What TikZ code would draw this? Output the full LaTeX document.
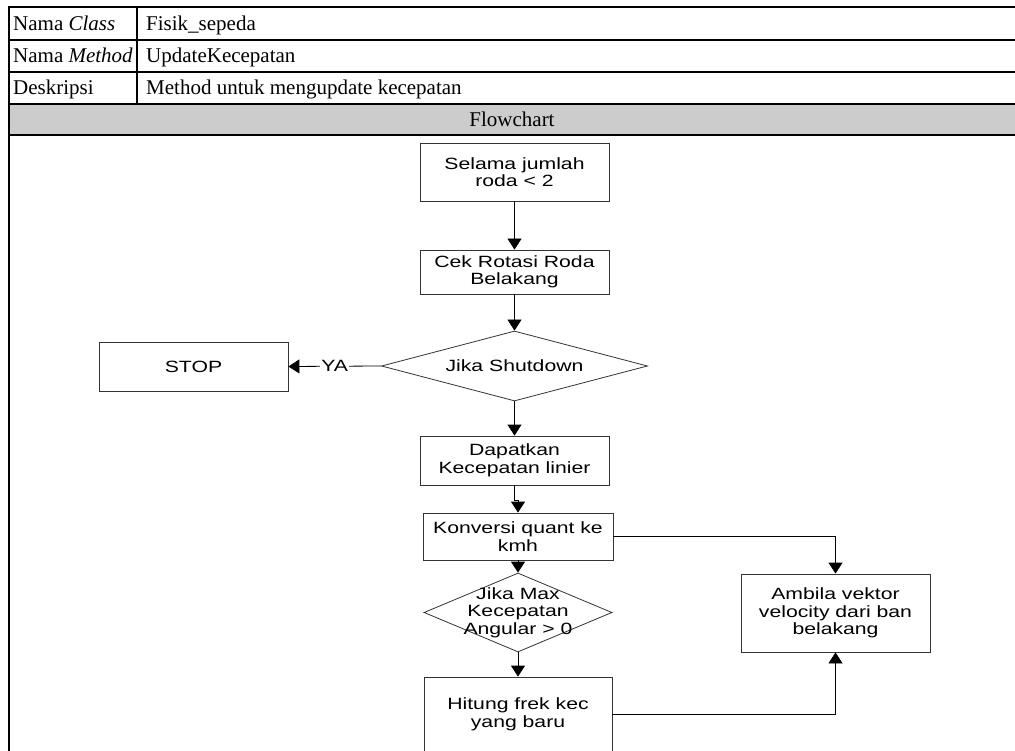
\documentclass[tikz,border=0pt]{standalone}
\usepackage{fontspec}
\setmainfont{Liberation Serif}
\newfontfamily\flowfont[FakeStretch=1.3]{Liberation Sans}
\usetikzlibrary{arrows.meta,shapes.geometric}
\begin{document}
\begin{tikzpicture}[x=1pt,y=-1pt,
  rule/.style={line width=1.7pt, black},
  cell/.style={font=\fontsize{21}{25}\selectfont, anchor=base west, inner sep=0pt},
  proc/.style={draw=black!80, line width=0.8pt, inner sep=0pt, align=center,
    font=\flowfont\fontsize{16.3}{17.5}\selectfont},
  dec/.style={diamond, draw=black!80, line width=0.8pt, inner sep=0pt},
  flowtext/.style={inner sep=0pt, align=center, font=\flowfont\fontsize{16.3}{17.5}\selectfont},
  flow/.style={draw=black, line width=0.8pt, -{Triangle[length=11pt,width=14pt]}},
]
\useasboundingbox (0,0) rectangle (1015,751);
\clip (0,0) rectangle (1015,751);

% header table
\fill[black!20] (9,104) rectangle (1030,135);
\draw[rule] (9,7) -- (1030,7);
\draw[rule] (9,40) -- (1030,40);
\draw[rule] (9,72) -- (1030,72);
\draw[rule] (9,104) -- (1030,104);
\draw[rule] (9,135) -- (1030,135);
\draw[rule] (9,6.2) -- (9,760);
\draw[rule] (137,7) -- (137,104);

\node[cell] (k1) at (13,31) {Nama \textit{Class}};
\node[cell] (v1) at (146,31) {Fisik\_sepeda};
\node[cell] (k2) at (13,63) {Nama \textit{Method}};
\node[cell] (v2) at (146,63) {UpdateKecepatan};
\node[cell] (k3) at (13,95) {Deskripsi};
\node[cell] (v3) at (146,95) {Method untuk mengupdate kecepatan};
\node[cell, anchor=base] (fc) at (512,127) {Flowchart};

% flowchart
\node[proc, minimum width=189pt, minimum height=58pt] (b1) at (514.5,172) {Selama jumlah\\roda < 2};
\node[proc, minimum width=189pt, minimum height=44pt] (b2) at (514.5,272) {Cek Rotasi Roda\\Belakang};
\node[dec, minimum width=266pt, minimum height=70pt] (d1) at (514.5,366) {};
\node[flowtext] (t1) at (d1) {Jika Shutdown};
\node[proc, minimum width=189pt, minimum height=49pt] (stop) at (193.5,366.5) {STOP};
\node[proc, minimum width=189pt, minimum height=49pt] (b3) at (514.5,460.5) {Dapatkan\\Kecepatan linier};
\node[proc, minimum width=190pt, minimum height=47pt] (b4) at (518,536.5) {Konversi quant ke\\kmh};
\node[dec, minimum width=188pt, minimum height=79pt] (d2) at (518,612.5) {};
\node[flowtext] (t2) at (d2) {Jika Max\\Kecepatan\\Angular > 0};
\node[proc, minimum width=188pt, minimum height=75pt] (b5) at (518,714.5) {Hitung frek kec\\yang baru};
\node[proc, minimum width=189pt, minimum height=78pt] (b6) at (835.5,613) {Ambila vektor\\velocity dari ban\\belakang};

\draw[flow] (b1.south) -- (b2.north);
\draw[flow] (b2.south) -- (d1.north);
\draw[flow] (d1.west) -- node[flowtext, fill=white, inner xsep=1pt] {YA} (stop.east);
\draw[flow] (d1.south) -- (b3.north);
\draw[flow] (b3.south) -- ++(0,15) -| (b4.north);
\draw[flow] (b4.south) -- (d2.north);
\draw[flow] (d2.south) -- (b5.north);
\draw[flow] (b4.east) -| (b6.north);
\draw[flow] (b5.east) -| (b6.south);
\end{tikzpicture}
\end{document}
